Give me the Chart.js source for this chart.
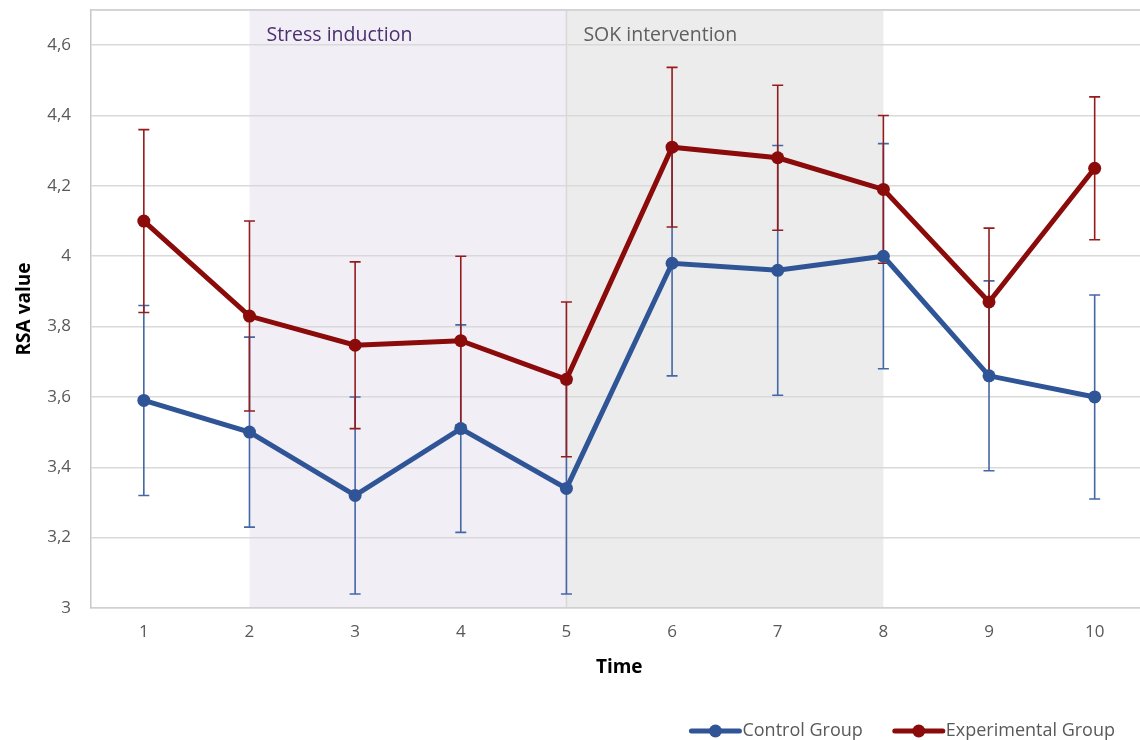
<!DOCTYPE html>
<html>
<head>
<meta charset="utf-8">
<title>RSA value over time</title>
<script src="https://cdn.jsdelivr.net/npm/chart.js@4/dist/chart.umd.min.js"></script>
<style>
  html, body { margin: 0; padding: 0; background: #ffffff; overflow: hidden; }
  #wrap { width: 1154px; height: 740px; }
</style>
</head>
<body>
<div id="wrap"><canvas id="rsa" width="1154" height="740"></canvas></div>
<script>
// Measurement points
const timePoints = ['1', '2', '3', '4', '5', '6', '7', '8', '9', '10'];

// Mean RSA and error-bar half widths per group
const controlMean = [3.59, 3.50, 3.32, 3.51, 3.34, 3.98, 3.96, 4.00, 3.66, 3.60];
const controlErr = [0.27, 0.27, 0.28, 0.295, 0.30, 0.32, 0.355, 0.32, 0.27, 0.29];
const experimentalMean = [4.10, 3.83, 3.747, 3.76, 3.65, 4.31, 4.28, 4.19, 3.87, 4.25];
const experimentalErr = [0.26, 0.27, 0.237, 0.24, 0.22, 0.227, 0.206, 0.21, 0.21, 0.203];

// Value axis tick labels
const yTickValues = [3, 3.2, 3.4, 3.6, 3.8, 4, 4.2, 4.4, 4.6];
const yAxisMin = 3;
const yAxisMax = 4.7;

// Study phases shaded behind the series (first and last time point)
const phaseNames = ['Stress induction', 'SOK intervention'];
const phaseStart = ['2', '5'];
const phaseEnd = ['5', '8'];

const FONT = "'Open Sans', 'Liberation Sans', sans-serif";
const BLUE = '#2f5597';
const RED = '#8b0a0a';
const phaseFill = ['#f2eef6', '#ececec'];
const phaseText = ['#4b2f6e', '#5f5f5f'];

const phasePlugin = {
  id: 'phases',
  beforeDraw(chart) {
    const { ctx, chartArea } = chart;
    const x = chart.scales.x;
    ctx.save();
    phaseNames.forEach((name, i) => {
      const x0 = x.getPixelForValue(timePoints.indexOf(phaseStart[i]));
      const x1 = x.getPixelForValue(timePoints.indexOf(phaseEnd[i]));
      ctx.fillStyle = phaseFill[i];
      ctx.fillRect(x0, chartArea.top, x1 - x0, chartArea.bottom - chartArea.top);
    });
    // boundary between the two phases
    const xb = x.getPixelForValue(timePoints.indexOf(phaseEnd[0]));
    ctx.strokeStyle = '#d8d8d8';
    ctx.lineWidth = 1.5;
    ctx.beginPath();
    ctx.moveTo(xb, chartArea.top);
    ctx.lineTo(xb, chartArea.bottom);
    ctx.stroke();
    ctx.restore();
  },
  afterDraw(chart) {
    const { ctx, chartArea } = chart;
    const x = chart.scales.x;
    ctx.save();
    ctx.font = '19.5px ' + FONT;
    ctx.textBaseline = 'middle';
    ctx.textAlign = 'left';
    phaseNames.forEach((name, i) => {
      const x0 = x.getPixelForValue(timePoints.indexOf(phaseStart[i]));
      ctx.fillStyle = phaseText[i];
      ctx.fillText(name, x0 + 17, chartArea.top + 25);
    });
    // top frame line
    ctx.strokeStyle = '#d0d0d0';
    ctx.lineWidth = 1.5;
    ctx.beginPath();
    ctx.moveTo(chartArea.left, chartArea.top);
    ctx.lineTo(chartArea.right, chartArea.top);
    ctx.stroke();
    ctx.restore();
  }
};

const errorBarPlugin = {
  id: 'errorBars',
  beforeDatasetsDraw(chart) {
    const { ctx } = chart;
    const x = chart.scales.x;
    const y = chart.scales.y;
    const groups = [
      { mean: controlMean, err: controlErr, color: '#4468a6' },
      { mean: experimentalMean, err: experimentalErr, color: '#951c1c' }
    ];
    ctx.save();
    ctx.lineWidth = 1.6;
    groups.forEach(g => {
      ctx.strokeStyle = g.color;
      g.mean.forEach((m, i) => {
        const px = x.getPixelForValue(i);
        const top = y.getPixelForValue(m + g.err[i]);
        const bot = y.getPixelForValue(m - g.err[i]);
        ctx.beginPath();
        ctx.moveTo(px, top);
        ctx.lineTo(px, bot);
        ctx.moveTo(px - 5.5, top);
        ctx.lineTo(px + 5.5, top);
        ctx.moveTo(px - 5.5, bot);
        ctx.lineTo(px + 5.5, bot);
        ctx.stroke();
      });
    });
    ctx.restore();
  }
};

const legendPlugin = {
  id: 'lineLegend',
  afterDraw(chart) {
    const { ctx } = chart;
    const items = chart.data.datasets.map(d => ({ text: d.label, color: d.borderColor }));
    ctx.save();
    ctx.font = '18px ' + FONT;
    const sample = 48, gap = 3, between = 32;
    let total = 0;
    items.forEach((it, i) => {
      total += sample + gap + ctx.measureText(it.text).width + (i < items.length - 1 ? between : 0);
    });
    let cx = 1115 - total;
    const cy = 731;
    items.forEach(it => {
      ctx.strokeStyle = it.color;
      ctx.fillStyle = it.color;
      ctx.lineWidth = 5;
      ctx.lineCap = 'round';
      ctx.beginPath();
      ctx.moveTo(cx, cy);
      ctx.lineTo(cx + sample, cy);
      ctx.stroke();
      ctx.beginPath();
      ctx.arc(cx + sample / 2, cy, 6.5, 0, Math.PI * 2);
      ctx.fill();
      cx += sample + gap;
      ctx.fillStyle = '#595959';
      ctx.textBaseline = 'middle';
      ctx.textAlign = 'left';
      ctx.fillText(it.text, cx, cy);
      cx += ctx.measureText(it.text).width + between;
    });
    ctx.restore();
  }
};

new Chart(document.getElementById('rsa'), {
  type: 'line',
  data: {
    labels: timePoints,
    datasets: [
      {
        label: 'Control Group',
        data: controlMean,
        borderColor: BLUE,
        backgroundColor: BLUE,
        pointBackgroundColor: BLUE,
        pointBorderColor: BLUE,
        borderWidth: 5,
        pointRadius: 6.5,
        pointBorderWidth: 0,
        tension: 0,
        order: 2
      },
      {
        label: 'Experimental Group',
        data: experimentalMean,
        borderColor: RED,
        backgroundColor: RED,
        pointBackgroundColor: RED,
        pointBorderColor: RED,
        borderWidth: 5,
        pointRadius: 6.5,
        pointBorderWidth: 0,
        tension: 0,
        order: 1
      }
    ]
  },
  options: {
    responsive: false,
    animation: false,
    events: [],
    layout: { padding: { left: 0, top: 10, right: 2, bottom: 52 } },
    plugins: {
      legend: { display: false },
      tooltip: { enabled: false }
    },
    scales: {
      x: {
        type: 'category',
        offset: true,
        grid: { display: true, color: 'rgba(0,0,0,0)', drawTicks: false },
        border: { display: true, color: '#d0d0d0', width: 1.5 },
        ticks: { color: '#595959', font: { family: FONT, size: 17 }, padding: 14, maxRotation: 0 },
        title: {
          display: true,
          text: 'Time',
          color: '#000000',
          font: { family: FONT, size: 19, weight: 'bold' },
          padding: { top: 0, bottom: 9 }
        },
        afterFit(scale) {
          scale.height = 80;
          scale.paddingLeft = 0;
          scale.paddingRight = 0;
        }
      },
      y: {
        min: yAxisMin,
        max: yAxisMax,
        afterBuildTicks(scale) {
          scale.ticks = yTickValues.concat([yAxisMax]).map(v => ({ value: v }));
        },
        grid: { color: '#d9d9d9', lineWidth: 1.5, drawTicks: false },
        border: { display: true, color: '#c8c8c8', width: 1.5 },
        ticks: {
          color: '#595959',
          font: { family: FONT, size: 17 },
          padding: 20,
          callback(value) {
            if (value === yAxisMax) return '';
            return String(Number(value.toFixed(1))).replace('.', ',');
          }
        },
        title: {
          display: true,
          text: 'RSA value',
          color: '#000000',
          font: { family: FONT, size: 19, weight: 'bold' },
          padding: { top: 13, bottom: 0 }
        },
        afterFit(scale) {
          scale.width = 91;
          scale.paddingTop = 0;
          scale.paddingBottom = 0;
        }
      }
    }
  },
  plugins: [phasePlugin, errorBarPlugin, legendPlugin]
});
</script>
</body>
</html>
